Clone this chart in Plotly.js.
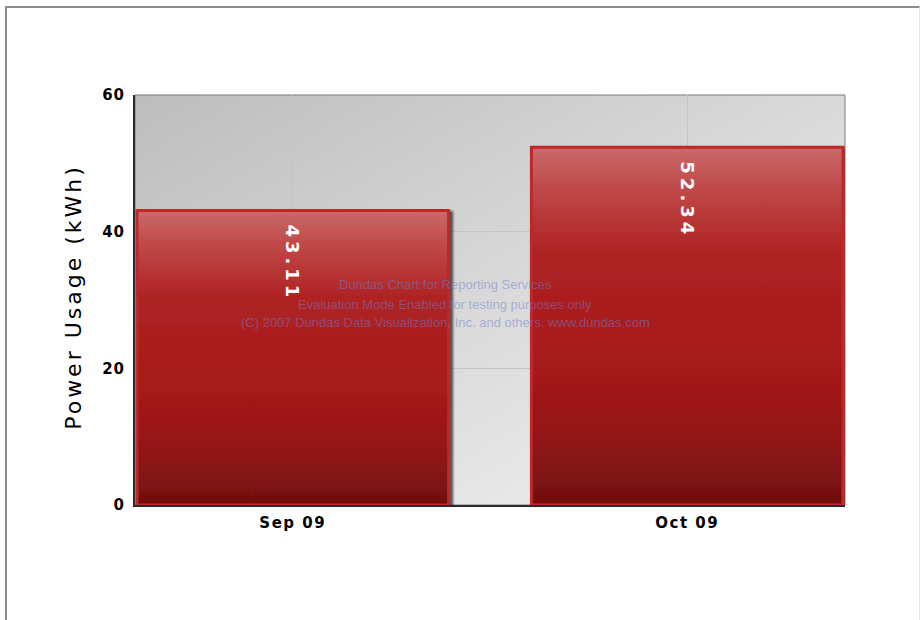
<!DOCTYPE html>
<html>
<head>
<meta charset="utf-8">
<script src="https://cdn.plot.ly/plotly-3.0.1.min.js"></script>
<style>
  html, body { margin: 0; padding: 0; background: #ffffff; }
  #wrap { position: relative; width: 922px; height: 620px; overflow: hidden; }
  #chart { position: absolute; left: 0; top: 0; width: 922px; height: 620px; }
  #frame { position: absolute; left: 5px; top: 6px; width: 912px; height: 612px;
           border-top: 2px solid #8c8c8c; border-left: 2px solid #8c8c8c;
           border-right: 1px solid #e6e6e6; border-bottom: 1px solid #e6e6e6; pointer-events: none; }
</style>
</head>
<body>
<div id="wrap">
  <div id="chart"></div>
  <div id="frame"></div>
</div>
<script>
var categories = ["Sep 09", "Oct 09"];
var usage = [43.11, 52.34];
var usageLabels = ["43.11", "52.34"];
var yTickValues = [0, 20, 40, 60];
var yTickLabels = ["0", "20", "40", "60"];
var watermarkLines = [
  "Dundas Chart for Reporting Services",
  "Evaluation Mode Enabled for testing purposes only",
  "(C) 2007 Dundas Data Visualization, Inc. and others. www.dundas.com"
];

var trace = {
  type: "bar",
  x: categories,
  y: usage,
  width: 0.79,
  text: usageLabels,
  textposition: "inside",
  insidetextanchor: "end",
  textangle: 90,
  constraintext: "none",
  textfont: { family: "DejaVu Sans, Verdana, sans-serif", size: 18, color: "#ffffff" },
  marker: { color: "#a81a1a", line: { color: "#c22626", width: 3 } },
  hoverinfo: "none"
};

var wmY = [0.537, 0.49, 0.444];
var annotations = watermarkLines.map(function (t, i) {
  return {
    text: t, xref: "paper", yref: "paper", x: 0.437, y: wmY[i],
    xanchor: "center", yanchor: "middle", showarrow: false,
    font: { family: "Liberation Sans, Arial, sans-serif", size: 13, color: "rgba(110,125,210,0.5)" }
  };
});

var layout = {
  width: 922, height: 620,
  margin: { l: 135, r: 77, t: 95, b: 115 },
  paper_bgcolor: "rgba(0,0,0,0)",
  plot_bgcolor: "#d8d8d8",
  showlegend: false,
  xaxis: {
    type: "category",
    range: [-0.4, 1.4],
    showgrid: true, gridcolor: "#c4c4c4", gridwidth: 1,
    showline: true, linecolor: "#2a2a2a", linewidth: 2,
    ticks: "", ticklen: 0, ticklabelstandoff: 3,
    tickfont: { family: "DejaVu Sans, Verdana, sans-serif", size: 15, color: "#000000", weight: "bold" },
    mirror: false, zeroline: false
  },
  yaxis: {
    range: [0, 60],
    tickvals: yTickValues, ticktext: yTickLabels,
    showgrid: true, gridcolor: "#c4c4c4", gridwidth: 1,
    showline: true, linecolor: "#2a2a2a", linewidth: 2,
    ticks: "", ticklabelstandoff: 5,
    tickfont: { family: "DejaVu Sans, Verdana, sans-serif", size: 15, color: "#000000", weight: "bold" },
    title: { text: "Power Usage (kWh)", font: { family: "DejaVu Sans, Verdana, sans-serif", size: 22, color: "#000000" }, standoff: 16 },
    zeroline: false
  },
  shapes: [
    { type: "rect", xref: "paper", yref: "paper", x0: 0, x1: 1, y0: 0, y1: 1,
      line: { color: "#7a7a7a", width: 1 }, fillcolor: "rgba(0,0,0,0)", layer: "below" }
  ],
  annotations: annotations
};

Plotly.newPlot("chart", [trace], layout, { displayModeBar: false, staticPlot: true }).then(function () {
  var ns = "http://www.w3.org/2000/svg";
  var svg = document.querySelector("#chart .main-svg");
  var defs = svg.querySelector("defs") || svg.insertBefore(document.createElementNS(ns, "defs"), svg.firstChild);

  function grad(id, x1, y1, x2, y2, stops) {
    var g = document.createElementNS(ns, "linearGradient");
    g.setAttribute("id", id);
    g.setAttribute("x1", x1); g.setAttribute("y1", y1);
    g.setAttribute("x2", x2); g.setAttribute("y2", y2);
    stops.forEach(function (s) {
      var st = document.createElementNS(ns, "stop");
      st.setAttribute("offset", s[0]);
      st.setAttribute("stop-color", s[1]);
      g.appendChild(st);
    });
    defs.appendChild(g);
  }
  grad("bgGrad", "0", "0", "1", "1", [["0", "#bdbdbd"], ["0.55", "#dcdcdc"], ["1", "#f4f4f4"]]);
  grad("barGrad", "0", "0", "0", "1", [["0", "#c96a6a"], ["0.12", "#c04848"], ["0.3", "#ae2222"], ["0.6", "#a81a1a"], ["0.82", "#921616"], ["1", "#711010"]]);

  var f = document.createElementNS(ns, "filter");
  f.setAttribute("id", "barShadow");
  f.setAttribute("x", "-5%"); f.setAttribute("y", "-5%");
  f.setAttribute("width", "115%"); f.setAttribute("height", "115%");
  var ds = document.createElementNS(ns, "feDropShadow");
  ds.setAttribute("dx", "3"); ds.setAttribute("dy", "2");
  ds.setAttribute("stdDeviation", "1.2");
  ds.setAttribute("flood-color", "#222222"); ds.setAttribute("flood-opacity", "0.75");
  f.appendChild(ds);
  defs.appendChild(f);

  var bg = svg.querySelector(".bglayer rect.bg");
  if (bg) { bg.style.fill = "url(#bgGrad)"; }

  var points = svg.querySelectorAll(".trace.bars .point");
  points.forEach(function (pt) {
    var p = pt.querySelector("path");
    var t = pt.querySelector("text");
    if (p) {
      p.style.fill = "url(#barGrad)";
      p.setAttribute("filter", "url(#barShadow)");
    }
    if (p && t) {
      t.style.letterSpacing = "4px";
      t.style.fontWeight = "bold";
      var pr = p.getBoundingClientRect();
      var tr = t.getBoundingClientRect();
      var dy = (pr.top + 14) - tr.top;
      var old = t.getAttribute("transform") || "";
      t.setAttribute("transform", "translate(0," + dy + ") " + old);
    }
  });

  var yt = document.querySelector("#chart .ytitle");
  if (yt) {
    var before = yt.getBoundingClientRect();
    var cy = before.top + before.height / 2;
    yt.setAttribute("letter-spacing", "3px");
    yt.style.letterSpacing = "3px";
    var after = yt.getBoundingClientRect();
    var shift = 297 - (after.top + after.height / 2);
    var tOld = yt.getAttribute("transform") || "";
    yt.setAttribute("transform", "translate(0," + shift + ") " + tOld);
  }
  svg.querySelectorAll(".xtick text").forEach(function (t) { t.style.letterSpacing = "1.5px"; });
  svg.querySelectorAll(".ytick text").forEach(function (t) { t.style.letterSpacing = "1px"; });
});
</script>
</body>
</html>
